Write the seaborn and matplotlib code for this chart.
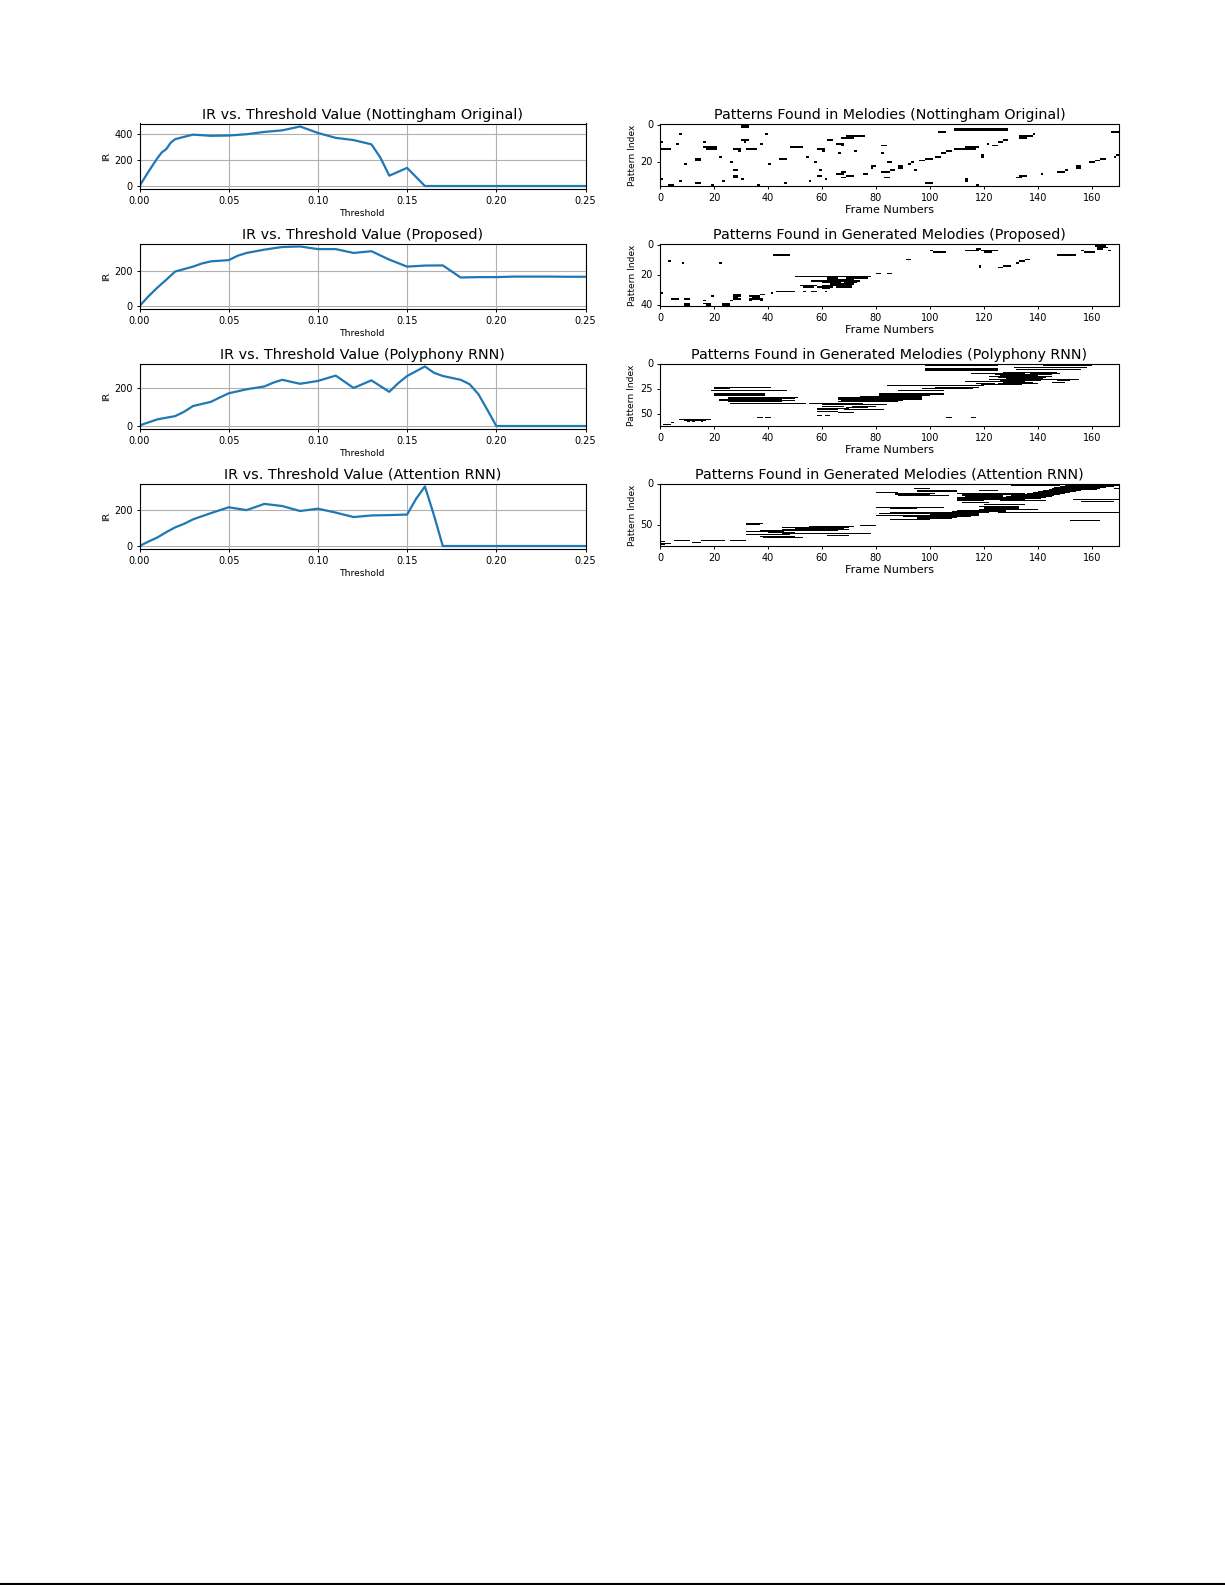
import numpy as np
import pandas as pd
import matplotlib
matplotlib.use('Agg')
import matplotlib.pyplot as plt
from matplotlib.lines import Line2D
import seaborn as sns

# threshold curves
t_orig = [0, .005, .01, .0125, .015, .0175, .02, .025, .03, .04, .05, .06, .07, .08, .09, .10, .11, .12, .13, .135, .14, .15, .16, .17, .18, .19, .20, .21, .22, .23, .24, .25]
ir_orig = [0, 110, 215, 260, 285, 335, 362, 380, 397, 388, 390, 400, 418, 430, 460, 410, 372, 355, 322, 220, 80, 140, 0, 0, 0, 0, 0, 0, 0, 0, 0, 0]

t_prop = [0, .005, .01, .015, .02, .03, .035, .04, .05, .055, .06, .07, .08, .09, .10, .11, .12, .13, .14, .15, .16, .17, .18, .19, .20, .21, .22, .23, .24, .25]
ir_prop = [0, 55, 105, 150, 197, 225, 243, 255, 262, 287, 303, 322, 337, 340, 325, 325, 303, 313, 265, 225, 231, 232, 163, 165, 165, 168, 168, 168, 167, 167]

t_poly = [0, .01, .02, .025, .03, .04, .045, .05, .06, .07, .075, .08, .09, .10, .11, .12, .13, .14, .145, .15, .16, .165, .17, .18, .185, .19, .195, .20, .21, .22, .23, .24, .25]
ir_poly = [3, 35, 52, 75, 105, 127, 150, 172, 193, 208, 228, 243, 222, 237, 265, 200, 240, 180, 225, 263, 313, 280, 263, 243, 220, 167, 85, 0, 0, 0, 0, 0, 0]

t_attn = [0, .005, .01, .015, .02, .025, .03, .04, .05, .06, .07, .08, .09, .10, .11, .12, .13, .14, .15, .155, .16, .165, .17, .18, .19, .20, .21, .22, .23, .24, .25]
ir_attn = [0, 25, 48, 78, 105, 125, 150, 185, 218, 202, 237, 225, 197, 210, 188, 163, 172, 174, 177, 265, 335, 175, 0, 0, 0, 0, 0, 0, 0, 0, 0]

# pattern segments: (row, start frame, end frame)
seg_orig = [(0, 30, 33), (1, 30, 33), (2, 109, 129), (3, 109, 129), (3, 119, 122), (4, 103, 106), (4, 167, 170), (5, 7, 8), (5, 39, 40), (5, 138, 139),
            (6, 69, 76), (6, 133, 138), (7, 67, 72), (7, 133, 136), (8, 62, 64), (8, 30, 33), (8, 127, 129), (9, 31, 32), (9, 125, 127), (9, 16, 17), (9, 0, 1),
            (10, 6, 7), (10, 37, 38), (10, 65, 68), (10, 121, 122), (11, 67, 68), (11, 82, 84), (11, 123, 125), (12, 16, 21), (12, 48, 53), (12, 113, 118),
            (13, 17, 21), (13, 109, 117), (13, 0, 4), (13, 27, 30), (13, 32, 36), (13, 58, 61), (14, 29, 30), (14, 60, 61), (14, 72, 73), (14, 106, 108),
            (15, 66, 67), (15, 82, 83), (15, 104, 106), (16, 119, 120), (16, 169, 170), (17, 22, 23), (17, 54, 55), (17, 102, 104), (17, 119, 120), (17, 168, 169),
            (18, 44, 47), (18, 13, 15), (18, 98, 101), (18, 163, 165), (19, 13, 15), (19, 96, 98), (19, 161, 163), (20, 159, 161), (20, 84, 86), (20, 26, 27), (20, 57, 58), (20, 93, 94),
            (21, 92, 93), (21, 9, 10), (21, 40, 41), (22, 78, 80), (23, 78, 79), (22, 88, 90), (23, 88, 90), (22, 154, 156), (23, 154, 156), (24, 27, 29), (24, 85, 87), (24, 94, 95), (24, 59, 60), (24, 150, 151),
            (25, 147, 150), (25, 67, 69), (25, 82, 85), (26, 65, 68), (26, 75, 77), (26, 141, 142), (27, 27, 29), (27, 58, 60), (27, 69, 72), (27, 133, 136), (28, 27, 29), (28, 67, 69), (28, 83, 85), (28, 132, 134),
            (29, 30, 31), (29, 113, 114), (29, 61, 62), (29, 0, 1), (30, 113, 114), (30, 7, 8), (30, 23, 24), (30, 55, 56), (31, 13, 15), (31, 46, 47), (31, 98, 101), (32, 3, 5), (32, 19, 20), (32, 36, 37), (32, 117, 118)]

seg_prop = [(0, 100, 106), (0, 120, 124), (0, 167, 170), (1, 161, 165), (2, 162, 166), (3, 117, 119), (3, 162, 164), (4, 100, 101), (4, 113, 118), (4, 119, 125), (4, 156, 157), (4, 166, 167),
            (5, 101, 106), (5, 120, 123), (5, 157, 161), (7, 42, 48), (7, 147, 154), (10, 91, 93), (10, 135, 137), (11, 3, 4), (11, 133, 135), (12, 8, 9), (12, 22, 23), (12, 132, 133),
            (14, 118, 119), (14, 127, 130), (15, 118, 119), (15, 125, 127), (19, 80, 82), (19, 84, 86), (21, 50, 78), (22, 62, 66), (22, 69, 77), (23, 62, 72), (24, 56, 74), (25, 60, 67), (25, 68, 73),
            (26, 63, 72), (27, 52, 58), (27, 60, 71), (28, 53, 57), (28, 58, 64), (28, 65, 71), (29, 60, 63), (31, 53, 54), (31, 56, 58), (31, 61, 62), (31, 43, 47), (31, 47, 50), (32, 0, 1), (32, 41, 42),
            (33, 27, 30), (33, 37, 39), (34, 27, 30), (34, 33, 37), (34, 19, 20), (35, 27, 29), (35, 34, 37), (36, 27, 30), (36, 33, 38), (36, 4, 7), (36, 9, 11), (37, 26, 27), (37, 16, 17), (37, 33, 34), (37, 37, 38),
            (39, 9, 11), (39, 16, 19), (39, 23, 26), (40, 9, 11), (40, 17, 19), (40, 23, 26)]

seg_poly = [(0, 107, 138), (0, 140, 170), (1, 98, 125), (1, 142, 160), (3, 131, 158), (4, 98, 125), (5, 98, 125), (5, 132, 156), (6, 98, 125),
            (8, 127, 147), (9, 115, 135), (9, 137, 148), (10, 124, 145), (11, 126, 140), (12, 122, 145), (13, 125, 143), (14, 128, 142), (15, 122, 155), (16, 126, 141), (16, 147, 152), (17, 113, 135),
            (18, 127, 138), (18, 145, 150), (19, 117, 124), (19, 125, 140), (20, 119, 134), (21, 84, 120), (23, 20, 41), (23, 102, 120), (24, 20, 41), (24, 102, 118), (25, 20, 26), (25, 97, 116), (27, 19, 47), (27, 88, 105),
            (30, 20, 39), (30, 81, 105), (31, 20, 39), (31, 81, 105), (32, 20, 39), (32, 81, 100), (33, 74, 97), (34, 25, 51), (34, 66, 97), (35, 25, 50), (35, 66, 97), (36, 22, 45), (36, 66, 97), (37, 22, 50), (37, 67, 90), (38, 25, 45), (38, 66, 88),
            (40, 26, 54), (40, 55, 75), (41, 60, 84), (43, 60, 68), (43, 71, 80), (44, 69, 77), (45, 58, 70), (46, 58, 66), (46, 68, 83), (48, 58, 66), (49, 66, 72), (52, 58, 60), (52, 61, 63),
            (54, 36, 38), (54, 39, 41), (54, 106, 108), (54, 115, 117), (56, 7, 19), (57, 9, 17), (58, 10, 11), (58, 12, 13), (58, 15, 16), (59, 4, 5), (61, 1, 4)]

seg_attn = [(0, 94, 135), (0, 155, 170), (1, 105, 120), (1, 152, 170), (2, 130, 148), (2, 150, 170), (3, 148, 168), (4, 146, 165), (5, 94, 100), (5, 145, 163), (5, 168, 170), (6, 144, 162),
            (7, 93, 115), (7, 143, 158), (8, 95, 110), (8, 118, 125), (8, 142, 156), (9, 95, 110), (9, 140, 154), (10, 80, 88), (10, 138, 152), (11, 87, 102), (11, 110, 135), (11, 136, 150), (12, 108, 125), (12, 133, 149), (13, 87, 100), (13, 112, 133), (13, 132, 148),
            (14, 88, 107), (14, 112, 127), (14, 130, 146), (15, 113, 127), (15, 128, 145), (16, 110, 127), (16, 125, 143), (17, 110, 125), (17, 122, 141), (18, 107, 122), (18, 120, 138), (19, 110, 125), (19, 118, 135), (19, 153, 170),
            (20, 110, 120), (20, 126, 143), (21, 156, 168), (22, 112, 122), (23, 125, 140), (23, 150, 170), (25, 120, 135), (27, 118, 133), (28, 80, 105), (28, 120, 133), (29, 80, 100), (29, 122, 130), (29, 145, 153),
            (30, 85, 95), (30, 120, 133), (31, 118, 140), (32, 110, 128), (33, 108, 128), (34, 105, 122), (35, 85, 122), (35, 125, 170), (36, 81, 118), (37, 100, 118), (38, 80, 118), (39, 90, 115), (40, 80, 112), (41, 95, 110), (42, 95, 108), (43, 85, 100), (44, 152, 163),
            (45, 95, 100), (45, 118, 119), (48, 32, 38), (49, 32, 37), (50, 74, 80), (51, 70, 78), (52, 55, 72), (53, 45, 70), (54, 50, 68), (55, 45, 70), (56, 40, 68), (57, 37, 66), (58, 32, 46), (59, 40, 50), (60, 45, 78), (61, 32, 48), (62, 44, 56), (63, 62, 70), (64, 37, 50), (65, 38, 53),
            (70, 0, 2), (69, 5, 11), (69, 15, 24), (69, 26, 32), (71, 12, 15), (72, 0, 4), (73, 7, 9), (73, 17, 20), (73, 27, 30), (74, 0, 2)]

ir_titles = ['IR vs. Threshold Value (Nottingham Original)', 'IR vs. Threshold Value (Proposed)',
             'IR vs. Threshold Value (Polyphony RNN)', 'IR vs. Threshold Value (Attention RNN)']
pat_titles = ['Patterns Found in Melodies (Nottingham Original)', 'Patterns Found in Generated Melodies (Proposed)',
              'Patterns Found in Generated Melodies (Polyphony RNN)', 'Patterns Found in Generated Melodies (Attention RNN)']
curves = [(t_orig, ir_orig), (t_prop, ir_prop), (t_poly, ir_poly), (t_attn, ir_attn)]
segments = [seg_orig, seg_prop, seg_poly, seg_attn]
n_rows = [33, 41, 63, 76]
n_frames = 170
ir_yticks = [[0, 200, 400], [0, 200], [0, 200], [0, 200]]
pat_yticks = [[0, 20], [0, 20, 40], [0, 25, 50], [0, 50]]
th_ticks = [0.0, 0.05, 0.10, 0.15, 0.20, 0.25]
frame_ticks = [0, 20, 40, 60, 80, 100, 120, 140, 160]

W, H = 1225, 1585
fig = plt.figure(figsize=(W / 100, H / 100), dpi=100)


def make_ax(x0, x1, y0, y1):
    return fig.add_axes([x0 / W, 1 - y1 / H, (x1 - x0) / W, (y1 - y0) / H])


tops = [123.5, 243.5, 363.5, 483.5]

for i in range(4):
    ax = make_ax(139.5, 585.5, tops[i], tops[i] + 65.5)
    df = pd.DataFrame({'Threshold': curves[i][0], 'IR': curves[i][1]})
    sns.lineplot(data=df, x='Threshold', y='IR', ax=ax, color='#1f77b4', linewidth=1.6)
    ax.set_xlim(0, 0.25)
    ax.set_xticks(th_ticks)
    ax.set_xticklabels(['%.2f' % v for v in th_ticks])
    ax.set_yticks(ir_yticks[i])
    ax.grid(True, color='#b0b0b0', linewidth=0.8)
    ax.tick_params(labelsize=7, length=2.5, width=0.7, pad=2.5)
    ax.set_xlabel('Threshold', fontsize=6.6, labelpad=2.5)
    ax.set_ylabel('IR', fontsize=6.6, labelpad=2)
    ax.set_title(ir_titles[i], fontsize=10.4, pad=3.5)

    # pattern matrix
    mat = np.zeros((n_rows[i], n_frames))
    for row, start, end in segments[i]:
        mat[row, start:end] = 1
    ax2 = make_ax(660, 1119, tops[i] + 0.3, tops[i] + 62.5)
    sns.heatmap(mat, cmap='gray_r', vmin=0, vmax=1, cbar=False, ax=ax2)
    ax2.set_xticks(frame_ticks)
    ax2.set_xticklabels(frame_ticks, rotation=0)
    ax2.set_yticks(np.array(pat_yticks[i]) + 0.5)
    ax2.set_yticklabels(pat_yticks[i], rotation=0)
    for spine in ax2.spines.values():
        spine.set_visible(True)
        spine.set_linewidth(0.8)
    ax2.tick_params(labelsize=7, length=2.5, width=0.7, pad=2.5)
    ax2.set_xlabel('Frame Numbers', fontsize=8, labelpad=1.5)
    ax2.set_ylabel('Pattern Index', fontsize=6.6, labelpad=3)
    ax2.set_title(pat_titles[i], fontsize=10.3, pad=3.5)

# page rule at the bottom edge
fig.add_artist(Line2D([0, 1], [1.5 / H, 1.5 / H], color='black', linewidth=1.5))

fig.savefig('out.png', dpi=100)
